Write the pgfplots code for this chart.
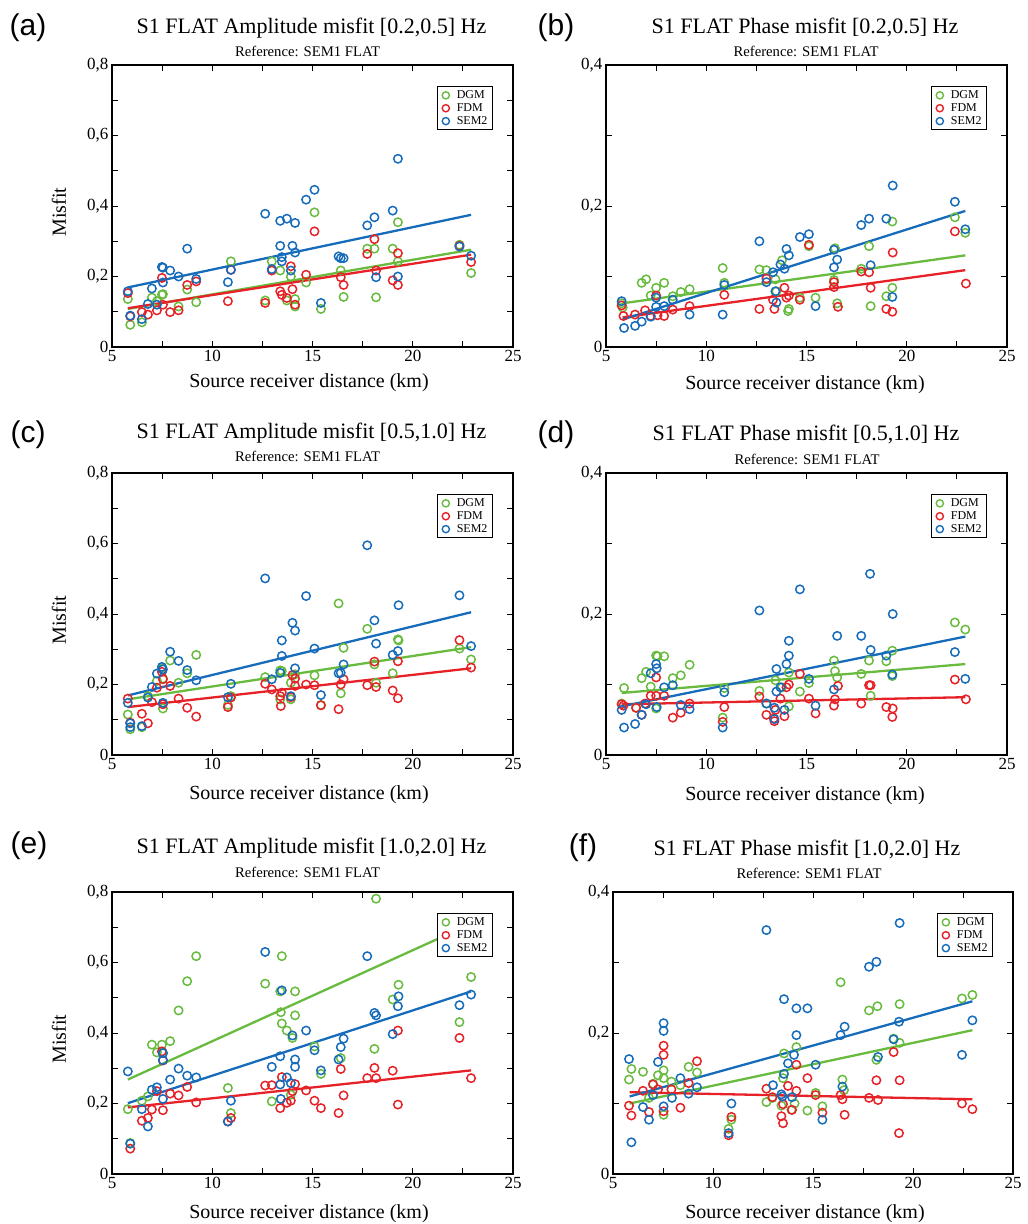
\documentclass[border=0pt]{standalone}
\usepackage{pgfplots}
\pgfplotsset{compat=1.18}
\usepackage{fontspec}
\setmainfont{Liberation Serif}
\newfontfamily\hv{Liberation Sans}
\definecolor{cg}{RGB}{104,187,62}
\definecolor{cr}{RGB}{230,34,40}
\definecolor{cb}{RGB}{22,108,186}
\pgfplotsset{
  panel/.style={
    scale only axis, width=401pt, height=282pt,
    xmin=5, xmax=25, xtick={5,10,15,20,25}, minor xtick={7.5,12.5,17.5,22.5},
    ymin=0,
    tick align=inside, major tick length=6pt, minor tick length=6pt,
    every tick/.style={line width=1pt, black},
    axis line style={line width=1.9pt},
    tick label style={font=\fontsize{17}{17}\selectfont},
    /pgf/number format/assume math mode=true,
    y tick label style={/pgf/number format/.cd, fixed, precision=1, use comma},
    legend style={at={(0.95,0.925)}, anchor=north east, draw=black, line width=0.9pt,
      fill=white, font=\fontsize{12}{12}\selectfont, inner xsep=3pt, inner ysep=2pt,
      row sep=-0.5pt},
    legend cell align=left,
    legend image code/.code={%
      \path[draw=none, fill=none] (0pt,-3pt) rectangle (14pt,3pt);
      \draw[##1, mark size=3.6pt, mark options={solid, line width=1.4pt}] plot coordinates {(5pt,0pt)};},
  },
  amp/.style={ymax=0.8, ytick={0,0.2,0.4,0.6,0.8}, minor ytick={0.1,0.3,0.5,0.7}},
  pha/.style={ymax=0.4, ytick={0,0.2,0.4}, minor ytick={0.1,0.3}},
  gp/.style={only marks, mark=o, mark size=4.2pt, mark options={solid, line width=1.5pt}, color=cg},
  rp/.style={only marks, mark=o, mark size=4.2pt, mark options={solid, line width=1.5pt}, color=cr},
  bp/.style={only marks, mark=o, mark size=4.2pt, mark options={solid, line width=1.5pt}, color=cb},
  gl/.style={cg, line width=2.3pt, forget plot, no marks},
  rl/.style={cr, line width=2.3pt, forget plot, no marks},
  bl/.style={cb, line width=2.3pt, forget plot, no marks},
}
\newcommand{\ttlfont}{\fontsize{22}{22}\selectfont}
\newcommand{\subfont}{\fontsize{14.7}{14.7}\selectfont}
\newcommand{\labfont}{\fontsize{20}{20}\selectfont}
\newcommand{\letfont}{\hv\fontsize{30}{30}\selectfont}
\begin{document}
\begin{tikzpicture}
\useasboundingbox (0pt,0pt) rectangle (1028pt,-1224pt);
% ---------------- (a)
\begin{axis}[panel, amp, at={(112pt,-347pt)}, anchor=south west]
\addplot[gp] coordinates {(5.79,0.136)(5.91,0.063)(6.49,0.070)(6.99,0.140)(7.24,0.130)(7.49,0.148)(7.54,0.150)(8.32,0.115)(8.75,0.163)(9.20,0.127)(10.93,0.243)(12.64,0.132)(12.97,0.243)(13.39,0.217)(13.72,0.132)(13.92,0.200)(14.13,0.136)(14.13,0.115)(14.68,0.183)(15.10,0.382)(15.42,0.108)(16.41,0.217)(16.55,0.142)(17.73,0.279)(18.09,0.279)(18.17,0.141)(19.00,0.279)(19.26,0.354)(19.26,0.243)(22.33,0.290)(22.91,0.210)};
\addlegendentry{DGM}
\addplot[rp] coordinates {(5.79,0.153)(5.91,0.087)(6.49,0.099)(6.79,0.092)(7.24,0.104)(7.49,0.196)(7.54,0.120)(7.90,0.099)(8.32,0.104)(8.75,0.176)(9.20,0.186)(10.78,0.130)(10.93,0.219)(12.64,0.125)(12.97,0.217)(13.39,0.158)(13.47,0.148)(13.72,0.139)(13.92,0.229)(14.00,0.164)(14.13,0.120)(14.68,0.205)(15.10,0.328)(16.41,0.198)(16.55,0.176)(17.73,0.264)(18.09,0.306)(18.17,0.217)(19.00,0.189)(19.26,0.266)(19.26,0.176)(22.33,0.287)(22.91,0.241)};
\addlegendentry{FDM}
\addplot[bp] coordinates {(5.79,0.158)(5.91,0.089)(6.49,0.079)(6.79,0.122)(6.99,0.166)(7.24,0.120)(7.49,0.227)(7.54,0.225)(7.54,0.183)(7.90,0.217)(8.32,0.200)(8.75,0.279)(9.20,0.193)(10.78,0.184)(10.93,0.219)(12.64,0.378)(12.97,0.221)(13.39,0.358)(13.39,0.287)(13.47,0.255)(13.47,0.243)(13.72,0.364)(13.92,0.217)(14.00,0.287)(14.13,0.352)(14.13,0.268)(14.68,0.418)(15.10,0.446)(15.42,0.125)(16.30,0.257)(16.41,0.252)(16.55,0.252)(17.73,0.345)(18.09,0.368)(18.17,0.198)(19.00,0.387)(19.26,0.534)(19.26,0.200)(22.33,0.285)(22.91,0.259)};
\addlegendentry{SEM2}
\addplot[gl] coordinates {(5.79,0.108)(22.91,0.276)};
\addplot[rl] coordinates {(5.79,0.110)(22.91,0.262)};
\addplot[bl] coordinates {(5.79,0.169)(22.91,0.375)};
\end{axis}
% ---------------- (b)
\begin{axis}[panel, pha, at={(606pt,-347pt)}, anchor=south west]
\addplot[gp] coordinates {(5.78,0.062)(5.83,0.056)(6.78,0.091)(7.00,0.096)(7.23,0.073)(7.50,0.084)(7.90,0.091)(8.33,0.072)(8.73,0.078)(9.17,0.082)(10.82,0.112)(10.90,0.091)(12.65,0.110)(13.00,0.109)(13.45,0.096)(13.50,0.079)(13.78,0.123)(14.08,0.051)(14.12,0.054)(14.67,0.070)(15.12,0.143)(15.45,0.070)(16.37,0.095)(16.42,0.140)(16.53,0.062)(17.73,0.111)(18.12,0.143)(18.20,0.058)(18.98,0.072)(19.28,0.178)(19.28,0.084)(22.40,0.184)(22.92,0.162)};
\addlegendentry{DGM}
\addplot[rp] coordinates {(5.78,0.059)(5.87,0.044)(6.45,0.046)(6.95,0.052)(7.23,0.044)(7.50,0.073)(7.57,0.045)(7.90,0.044)(8.33,0.053)(9.17,0.058)(10.90,0.074)(12.65,0.054)(13.00,0.097)(13.33,0.067)(13.40,0.054)(13.90,0.084)(14.00,0.070)(14.12,0.073)(14.67,0.067)(15.12,0.145)(16.37,0.092)(16.37,0.085)(16.57,0.057)(17.73,0.107)(18.12,0.106)(18.20,0.084)(18.98,0.054)(19.28,0.050)(19.30,0.134)(22.40,0.164)(22.95,0.090)};
\addlegendentry{FDM}
\addplot[bp] coordinates {(5.78,0.065)(5.90,0.027)(6.45,0.030)(6.78,0.036)(7.23,0.043)(7.50,0.070)(7.50,0.057)(7.90,0.058)(8.33,0.067)(9.17,0.046)(10.82,0.046)(10.90,0.088)(12.65,0.150)(13.00,0.092)(13.33,0.106)(13.45,0.079)(13.50,0.063)(13.70,0.117)(13.90,0.111)(14.00,0.139)(14.12,0.130)(14.67,0.156)(15.12,0.160)(15.45,0.058)(16.37,0.138)(16.37,0.113)(16.53,0.124)(17.73,0.173)(18.12,0.182)(18.20,0.116)(18.98,0.182)(19.28,0.071)(19.30,0.229)(22.40,0.206)(22.92,0.167)};
\addlegendentry{SEM2}
\addplot[gl] coordinates {(5.83,0.062)(22.92,0.130)};
\addplot[rl] coordinates {(5.83,0.042)(22.92,0.109)};
\addplot[bl] coordinates {(5.83,0.039)(22.92,0.193)};
\end{axis}
% ---------------- (c)
\begin{axis}[panel, amp, at={(112pt,-755pt)}, anchor=south west]
\addplot[gp] coordinates {(5.79,0.115)(5.91,0.073)(6.49,0.079)(6.79,0.167)(7.24,0.210)(7.49,0.246)(7.54,0.217)(7.54,0.132)(7.90,0.268)(8.32,0.205)(8.75,0.232)(9.20,0.284)(10.78,0.142)(10.93,0.167)(12.64,0.221)(13.39,0.240)(13.39,0.158)(13.47,0.238)(13.92,0.205)(13.92,0.158)(14.13,0.229)(15.10,0.226)(15.42,0.142)(16.30,0.430)(16.41,0.175)(16.55,0.304)(17.73,0.358)(18.09,0.257)(18.17,0.205)(19.00,0.232)(19.26,0.328)(19.29,0.325)(22.33,0.302)(22.91,0.271)};
\addlegendentry{DGM}
\addplot[rp] coordinates {(5.79,0.160)(5.91,0.092)(6.49,0.117)(6.79,0.090)(6.99,0.150)(7.24,0.191)(7.49,0.236)(7.54,0.215)(7.54,0.144)(7.90,0.196)(8.32,0.160)(8.75,0.134)(9.20,0.109)(10.78,0.136)(10.93,0.163)(12.64,0.202)(12.97,0.186)(13.39,0.167)(13.42,0.139)(13.47,0.177)(13.92,0.164)(14.00,0.227)(14.13,0.196)(14.13,0.217)(14.68,0.200)(15.10,0.198)(15.42,0.141)(16.30,0.130)(16.41,0.200)(16.55,0.215)(17.73,0.198)(18.09,0.265)(18.17,0.193)(19.00,0.183)(19.26,0.266)(19.26,0.161)(22.33,0.326)(22.91,0.248)};
\addlegendentry{FDM}
\addplot[bp] coordinates {(5.79,0.148)(5.91,0.090)(5.91,0.079)(6.49,0.082)(6.79,0.163)(6.99,0.193)(7.24,0.231)(7.49,0.250)(7.54,0.243)(7.54,0.148)(7.90,0.293)(8.32,0.267)(8.75,0.241)(9.20,0.212)(10.78,0.164)(10.93,0.202)(12.64,0.501)(12.97,0.215)(13.39,0.233)(13.47,0.325)(13.47,0.281)(13.92,0.167)(14.00,0.375)(14.13,0.353)(14.13,0.246)(14.68,0.451)(15.10,0.302)(15.42,0.170)(16.30,0.232)(16.41,0.233)(16.55,0.257)(17.73,0.595)(18.09,0.382)(18.17,0.316)(19.00,0.284)(19.26,0.295)(19.29,0.425)(22.33,0.453)(22.91,0.309)};
\addlegendentry{SEM2}
\addplot[gl] coordinates {(5.79,0.158)(22.91,0.306)};
\addplot[rl] coordinates {(5.79,0.136)(22.91,0.246)};
\addplot[bl] coordinates {(5.79,0.169)(22.91,0.405)};
\end{axis}
% ---------------- (d)
\begin{axis}[panel, pha, at={(606pt,-755pt)}, anchor=south west]
\addplot[gp] coordinates {(5.78,0.073)(5.90,0.095)(6.50,0.067)(6.78,0.109)(7.00,0.118)(7.23,0.097)(7.50,0.141)(7.57,0.140)(7.50,0.066)(7.90,0.140)(8.33,0.109)(8.73,0.113)(9.17,0.128)(10.82,0.053)(10.90,0.095)(12.65,0.091)(13.00,0.073)(13.45,0.106)(13.78,0.096)(14.12,0.117)(14.12,0.069)(14.67,0.090)(15.12,0.102)(16.37,0.134)(16.42,0.119)(16.53,0.110)(17.73,0.115)(18.12,0.134)(18.20,0.084)(18.98,0.133)(19.28,0.148)(19.28,0.112)(22.40,0.188)(22.92,0.178)};
\addlegendentry{DGM}
\addplot[rp] coordinates {(5.78,0.072)(5.87,0.070)(6.50,0.067)(6.78,0.057)(6.95,0.073)(7.23,0.084)(7.50,0.110)(7.50,0.084)(7.90,0.084)(8.33,0.053)(8.73,0.060)(9.17,0.073)(10.82,0.047)(10.90,0.068)(12.65,0.083)(13.00,0.057)(13.37,0.052)(13.40,0.048)(13.45,0.064)(13.70,0.080)(13.90,0.055)(14.00,0.096)(14.12,0.100)(14.67,0.115)(15.12,0.080)(15.45,0.059)(16.37,0.070)(16.42,0.079)(16.57,0.098)(17.73,0.073)(18.12,0.099)(18.20,0.099)(18.98,0.068)(19.28,0.054)(19.30,0.066)(22.40,0.107)(22.95,0.079)};
\addlegendentry{FDM}
\addplot[bp] coordinates {(5.78,0.064)(5.90,0.039)(6.45,0.044)(6.78,0.057)(7.00,0.072)(7.23,0.116)(7.50,0.129)(7.53,0.123)(7.53,0.068)(7.90,0.096)(8.33,0.099)(8.73,0.071)(9.17,0.065)(10.82,0.039)(10.90,0.089)(12.65,0.205)(13.00,0.073)(13.40,0.067)(13.40,0.051)(13.50,0.122)(13.50,0.090)(13.70,0.096)(13.90,0.064)(14.00,0.129)(14.12,0.162)(14.12,0.141)(14.67,0.235)(15.12,0.108)(15.45,0.070)(16.37,0.093)(16.53,0.169)(17.73,0.169)(18.17,0.257)(18.20,0.149)(18.98,0.141)(19.28,0.114)(19.30,0.200)(22.40,0.146)(22.92,0.108)};
\addlegendentry{SEM2}
\addplot[gl] coordinates {(5.78,0.088)(22.92,0.129)};
\addplot[rl] coordinates {(5.78,0.072)(22.92,0.082)};
\addplot[bl] coordinates {(5.78,0.069)(22.92,0.168)};
\end{axis}
% ---------------- (e)
\begin{axis}[panel, amp, at={(112pt,-1174pt)}, anchor=south west]
\addplot[gp] coordinates {(5.79,0.184)(5.91,0.088)(6.49,0.208)(6.79,0.220)(6.99,0.367)(7.24,0.345)(7.49,0.367)(7.54,0.343)(7.90,0.377)(8.32,0.464)(8.75,0.547)(9.20,0.618)(10.78,0.244)(10.93,0.173)(12.64,0.540)(12.97,0.206)(13.39,0.518)(13.42,0.459)(13.47,0.618)(13.47,0.427)(13.72,0.407)(13.92,0.225)(14.00,0.386)(14.13,0.518)(14.13,0.450)(15.10,0.362)(15.42,0.284)(16.41,0.329)(18.09,0.355)(18.17,0.781)(19.00,0.495)(19.29,0.537)(22.33,0.431)(22.91,0.559)};
\addlegendentry{DGM}
\addplot[rp] coordinates {(5.91,0.072)(6.49,0.151)(6.79,0.159)(6.99,0.183)(7.24,0.235)(7.49,0.348)(7.54,0.322)(7.54,0.181)(7.90,0.228)(8.32,0.223)(8.75,0.247)(9.20,0.203)(10.78,0.149)(10.93,0.159)(12.64,0.251)(12.97,0.252)(13.39,0.187)(13.47,0.275)(13.72,0.202)(13.92,0.208)(14.00,0.235)(14.13,0.255)(14.68,0.237)(15.10,0.208)(15.42,0.187)(16.30,0.173)(16.41,0.298)(16.55,0.223)(17.73,0.272)(18.09,0.301)(18.17,0.272)(19.00,0.293)(19.26,0.407)(19.26,0.197)(22.33,0.386)(22.91,0.272)};
\addlegendentry{FDM}
\addplot[bp] coordinates {(5.79,0.291)(5.91,0.086)(6.49,0.184)(6.79,0.135)(6.99,0.239)(7.24,0.246)(7.54,0.343)(7.54,0.323)(7.54,0.213)(7.90,0.268)(8.32,0.299)(8.75,0.279)(9.20,0.274)(10.78,0.149)(10.93,0.208)(12.64,0.630)(12.97,0.304)(13.39,0.334)(13.39,0.254)(13.42,0.213)(13.47,0.521)(13.72,0.274)(13.92,0.258)(14.00,0.393)(14.13,0.325)(14.13,0.304)(14.68,0.407)(15.10,0.351)(15.42,0.294)(16.30,0.325)(16.41,0.360)(16.55,0.384)(17.73,0.618)(18.09,0.457)(18.17,0.450)(19.00,0.397)(19.26,0.476)(19.29,0.504)(22.33,0.479)(22.91,0.509)};
\addlegendentry{SEM2}
\addplot[gl] coordinates {(5.79,0.268)(22.91,0.710)};
\addplot[rl] coordinates {(5.79,0.189)(22.91,0.294)};
\addplot[bl] coordinates {(5.79,0.201)(22.91,0.518)};
\end{axis}
% ---------------- (f)
\begin{axis}[panel, pha, width=400pt, at={(613pt,-1174pt)}, anchor=south west]
\addplot[gp] coordinates {(5.80,0.134)(5.92,0.149)(6.50,0.145)(6.80,0.108)(7.00,0.128)(7.25,0.140)(7.53,0.147)(7.53,0.136)(7.53,0.084)(7.92,0.131)(8.37,0.126)(8.78,0.152)(9.20,0.144)(10.78,0.064)(10.92,0.077)(12.67,0.102)(12.97,0.108)(13.42,0.097)(13.50,0.136)(13.55,0.171)(13.92,0.091)(14.08,0.100)(14.17,0.180)(14.72,0.090)(15.13,0.115)(15.47,0.096)(16.38,0.272)(16.47,0.134)(16.55,0.119)(17.80,0.232)(18.22,0.238)(18.17,0.162)(19.03,0.192)(19.33,0.241)(19.33,0.186)(22.45,0.249)(22.97,0.254)};
\addlegendentry{DGM}
\addplot[rp] coordinates {(5.80,0.097)(5.92,0.083)(6.50,0.118)(6.80,0.088)(7.00,0.127)(7.25,0.120)(7.53,0.182)(7.53,0.169)(7.53,0.089)(7.92,0.120)(8.37,0.094)(8.78,0.129)(9.20,0.160)(10.78,0.055)(10.92,0.081)(12.67,0.121)(12.97,0.109)(13.42,0.082)(13.50,0.072)(13.50,0.099)(13.75,0.125)(13.95,0.091)(14.17,0.155)(14.17,0.118)(14.72,0.136)(15.13,0.112)(15.47,0.087)(16.38,0.112)(16.47,0.106)(16.58,0.084)(17.80,0.108)(18.17,0.133)(18.25,0.105)(19.03,0.173)(19.33,0.133)(19.30,0.058)(22.45,0.100)(22.97,0.092)};
\addlegendentry{FDM}
\addplot[bp] coordinates {(5.80,0.163)(5.92,0.045)(6.50,0.095)(6.80,0.077)(7.00,0.112)(7.25,0.159)(7.53,0.214)(7.53,0.203)(7.53,0.096)(7.95,0.108)(8.37,0.136)(8.78,0.114)(9.20,0.123)(10.78,0.058)(10.92,0.100)(12.67,0.346)(13.00,0.126)(13.42,0.113)(13.47,0.110)(13.55,0.248)(13.55,0.142)(13.75,0.157)(13.95,0.109)(14.05,0.169)(14.17,0.235)(14.17,0.197)(14.72,0.235)(15.13,0.155)(15.47,0.077)(16.38,0.197)(16.47,0.124)(16.58,0.209)(17.80,0.294)(18.17,0.301)(18.25,0.166)(19.03,0.191)(19.33,0.356)(19.30,0.216)(22.45,0.169)(22.97,0.218)};
\addlegendentry{SEM2}
\addplot[gl] coordinates {(5.83,0.100)(22.97,0.204)};
\addplot[rl] coordinates {(5.83,0.116)(22.97,0.106)};
\addplot[bl] coordinates {(5.83,0.110)(22.97,0.245)};
\end{axis}
% ---------------- text
\node[font=\letfont] at (28pt,-28pt) {(a)};
\node[font=\letfont] at (556pt,-28pt) {(b)};
\node[font=\letfont] at (28pt,-435pt) {(c)};
\node[font=\letfont] at (556pt,-435pt) {(d)};
\node[font=\letfont] at (29pt,-846pt) {(e)};
\node[font=\letfont] at (583pt,-848pt) {(f)};
\node[font=\ttlfont, anchor=base] at (311.5pt,-33pt) {S1 FLAT Amplitude misfit [0.2,0.5] Hz};
\node[font=\subfont, anchor=base] at (307.5pt,-56pt) {Reference: SEM1 FLAT};
\node[font=\ttlfont, anchor=base] at (805pt,-33pt) {S1 FLAT Phase misfit [0.2,0.5] Hz};
\node[font=\subfont, anchor=base] at (806pt,-56pt) {Reference: SEM1 FLAT};
\node[font=\ttlfont, anchor=base] at (311.5pt,-438pt) {S1 FLAT Amplitude misfit [0.5,1.0] Hz};
\node[font=\subfont, anchor=base] at (307.5pt,-461pt) {Reference: SEM1 FLAT};
\node[font=\ttlfont, anchor=base] at (806pt,-440pt) {S1 FLAT Phase misfit [0.5,1.0] Hz};
\node[font=\subfont, anchor=base] at (807pt,-464pt) {Reference: SEM1 FLAT};
\node[font=\ttlfont, anchor=base] at (311.5pt,-853pt) {S1 FLAT Amplitude misfit [1.0,2.0] Hz};
\node[font=\subfont, anchor=base] at (307.5pt,-877pt) {Reference: SEM1 FLAT};
\node[font=\ttlfont, anchor=base] at (807pt,-855pt) {S1 FLAT Phase misfit [1.0,2.0] Hz};
\node[font=\subfont, anchor=base] at (809pt,-878pt) {Reference: SEM1 FLAT};
\node[font=\labfont, anchor=base] at (309pt,-387pt) {Source receiver distance (km)};
\node[font=\labfont, anchor=base] at (805pt,-389pt) {Source receiver distance (km)};
\node[font=\labfont, anchor=base] at (309pt,-799pt) {Source receiver distance (km)};
\node[font=\labfont, anchor=base] at (805pt,-800pt) {Source receiver distance (km)};
\node[font=\labfont, anchor=base] at (309pt,-1218pt) {Source receiver distance (km)};
\node[font=\labfont, anchor=base] at (805pt,-1218pt) {Source receiver distance (km)};
\node[font=\labfont, rotate=90] at (59pt,-212pt) {Misfit};
\node[font=\labfont, rotate=90] at (59pt,-620pt) {Misfit};
\node[font=\labfont, rotate=90] at (59pt,-1039pt) {Misfit};
\end{tikzpicture}
\end{document}
